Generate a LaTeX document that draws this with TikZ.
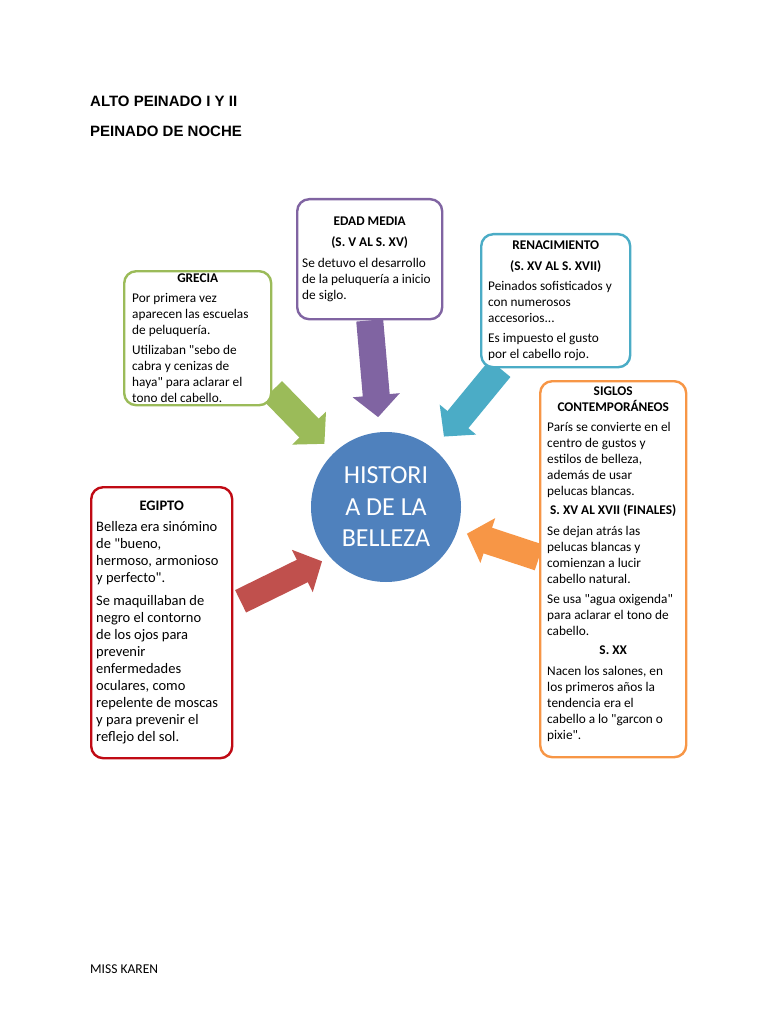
\documentclass[tikz,border=0pt]{standalone}
\usepackage{fontspec}
\setmainfont{Carlito}[Ligatures=TeXOff]
\newfontfamily\arialfont{Liberation Sans}
\usetikzlibrary{arrows.meta,backgrounds}

\hyphenpenalty=10000
\newcommand{\boxtitle}[1]{\makebox[\linewidth]{\bfseries #1}}

\begin{document}
\begin{tikzpicture}[
  x=1pt, y=-1pt,
  hdlbl/.style={font=\arialfont\fontsize{15}{18}\selectfont\bfseries, anchor=west, inner sep=0pt},
  eraBox/.style={draw=#1, line width=2.4pt, rounded corners=12pt, fill=white,
                 anchor=north west, align=flush left, inner ysep=0pt,
                 font=\fontsize{13.3}{16}\selectfont},
  flecha/.style={draw=#1, line width=27pt, -{Triangle[length=22pt,width=46pt]}},
]

%% ── Colours ──────────────────────────────────────────────────────────────────
\definecolor{verde}{HTML}{9BBB59}
\definecolor{morado}{HTML}{8064A2}
\definecolor{celeste}{HTML}{4BACC6}
\definecolor{naranja}{HTML}{F79646}
\definecolor{rojo}{HTML}{C0504D}
\definecolor{rojoBorde}{RGB}{192,10,20}
\definecolor{azul}{HTML}{4F81BD}

\useasboundingbox (0,0) rectangle (768,1024);

%% ── Header and footer ────────────────────────────────────────────────────────
\node[hdlbl] (titulo1) at (90,101) {ALTO PEINADO I Y II};
\node[hdlbl] (titulo2) at (90,131) {PEINADO DE NOCHE};
\node[anchor=west, inner sep=0pt, font=\fontsize{13.5}{16}\selectfont] (autora) at (90,969) {MISS KAREN};

%% ── Centre circle ────────────────────────────────────────────────────────────
\node[circle, fill=azul, minimum size=150pt, inner sep=0pt, text=white, align=center,
      font=\fontsize{26}{31.5}\selectfont] (historia) at (386,507) {HISTORI\\A DE LA\\BELLEZA};

%% ── Era boxes ────────────────────────────────────────────────────────────────
\node[eraBox=verde, inner xsep=8pt, text width=131pt, minimum height=134pt] (grecia) at (123,270) {%
\boxtitle{GRECIA}\\[4pt]
Por primera vez\\
aparecen las escuelas\\
de peluquería.\\[4pt]
Utilizaban "sebo de\\
cabra y cenizas de\\
haya" para aclarar el\\
tono del cabello.};

\node[eraBox=morado, inner xsep=5pt, text width=135pt, minimum height=120pt] (edad) at (296,198) {%
\boxtitle{EDAD MEDIA}\\[5pt]
\boxtitle{(S. V AL S. XV)}\\[5pt]
Se detuvo el desarrollo\\
de la peluquería a inicio\\
de siglo.};

\node[eraBox=celeste, inner xsep=7pt, text width=135pt, minimum height=133pt] (renac) at (480,233) {%
\boxtitle{RENACIMIENTO}\\[5pt]
\boxtitle{(S. XV AL S. XVII)}\\[4pt]
Peinados sofisticados y\\
con numerosos\\
accesorios...\\[4pt]
Es impuesto el gusto\\
por el cabello rojo.};

\node[eraBox=naranja, inner xsep=7pt, text width=132pt, minimum height=376pt] (siglos) at (539,380) {%
\boxtitle{SIGLOS}\\
\boxtitle{CONTEMPORÁNEOS}\\[4pt]
París se convierte en el\\
centro de gustos y\\
estilos de belleza,\\
además de usar\\
pelucas blancas.\\[3pt]
\boxtitle{S. XV AL XVII (FINALES)}\\[5pt]
Se dejan atrás las\\
pelucas blancas y\\
comienzan a lucir\\
cabello natural.\\[4pt]
Se usa "agua oxigenda"\\
para aclarar el tono de\\
cabello.\\[3pt]
\boxtitle{S. XX}\\[5pt]
Nacen los salones, en\\
los primeros años la\\
tendencia era el\\
cabello a lo "garcon o\\
pixie".\\[-8pt]\strut};

\node[eraBox=rojoBorde, inner xsep=5pt, text width=131pt, minimum height=271pt,
      font=\fontsize{14.5}{17}\selectfont] (egipto) at (90,486) {%
\boxtitle{EGIPTO}\\[4pt]
Belleza era sinómino\\
de "bueno,\\
hermoso, armonioso\\
y perfecto".\\[6pt]
Se maquillaban de\\
negro el contorno\\
de los ojos para\\
prevenir\\
enfermedades\\
oculares, como\\
repelente de moscas\\
y para prevenir el\\
reflejo del sol.};

%% ── Block arrows into the circle (behind the boxes) ─────────────────────────
\begin{pgfonlayer}{background}
\draw[flecha=verde, shorten >=13pt] (grecia.-35) -- (historia);
\draw[flecha=morado, shorten >=15pt] (edad.south) -- (historia);
\draw[flecha=celeste, shorten >=16pt] (renac) -- (historia);
\draw[flecha=naranja, shorten >=10pt] (siglos.171) -- (historia);
\draw[flecha=rojo, line width=25pt, shorten <=8pt, shorten >=9pt] (egipto.14) -- (historia.222);
\end{pgfonlayer}

\end{tikzpicture}
\end{document}
